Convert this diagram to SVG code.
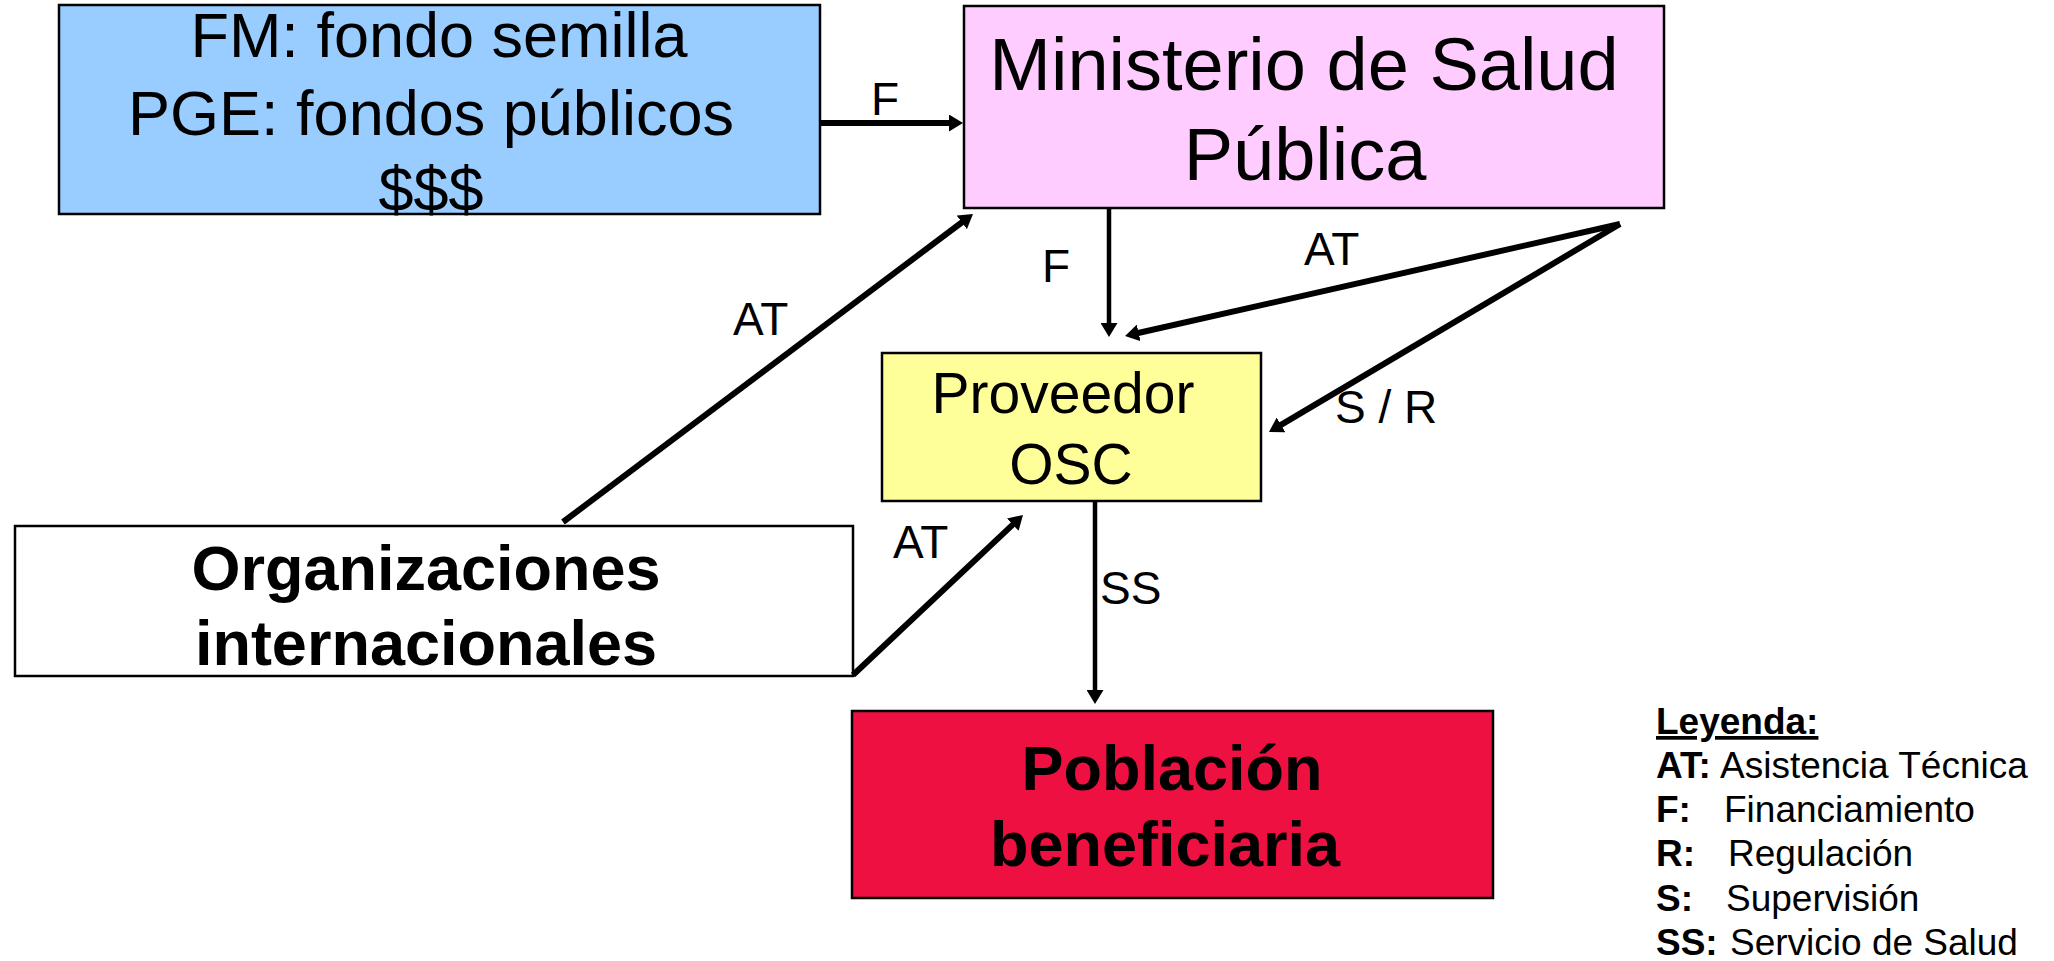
<svg xmlns="http://www.w3.org/2000/svg" width="2054" height="961" viewBox="0 0 2054 961">
<style>
  text { font-family: "Liberation Sans", Arial, sans-serif; fill: #000; }
  .box { stroke: #000; stroke-width: 2.5; }
  .t63 { font-size: 63px; text-anchor: middle; }
  .t74 { font-size: 74px; text-anchor: middle; }
  .t57 { font-size: 57px; text-anchor: middle; }
  .b64 { font-size: 63px; font-weight: bold; text-anchor: middle; }
  .lbl { font-size: 46px; }
  .leg { font-size: 37px; }
  .bold { font-weight: bold; }
  .conn line { stroke: #000; fill: none; }
  .thick { stroke-width: 6; }
  .thin { stroke-width: 4.5; }
</style>
<defs>
  <marker id="ah" viewBox="0 0 14 17" refX="4" refY="8.5" markerWidth="14" markerHeight="17" markerUnits="userSpaceOnUse" orient="auto">
    <path d="M0,0 L14,8.5 L0,17 Z" fill="#000"/>
  </marker>
</defs>
<rect width="2054" height="961" fill="#fff"/>

<g id="fondos">
  <rect class="box" x="59" y="5" width="761" height="209" fill="#99CCFF"/>
  <text class="t63" x="439" y="57">FM: fondo semilla</text>
  <text class="t63" x="431" y="135">PGE: fondos públicos</text>
  <text class="t63" x="431" y="211">$$$</text>
</g>

<g id="ministerio">
  <rect class="box" x="964" y="6" width="700" height="202" fill="#FFCCFF"/>
  <text class="t74" x="1304" y="90">Ministerio de Salud</text>
  <text class="t74" x="1305" y="180">Pública</text>
</g>

<g id="proveedor">
  <rect class="box" x="882" y="353" width="379" height="148" fill="#FFFF99"/>
  <text class="t57" x="1063" y="413">Proveedor</text>
  <text class="t57" x="1071" y="484">OSC</text>
</g>

<g id="organizaciones">
  <rect class="box" x="15" y="526" width="838" height="150" fill="#FFFFFF"/>
  <text class="b64" x="426" y="590">Organizaciones</text>
  <text class="b64" x="426" y="665">internacionales</text>
</g>

<g id="poblacion">
  <rect class="box" x="852" y="711" width="641" height="187" fill="#EE1041"/>
  <text class="b64" x="1172" y="790">Población</text>
  <text class="b64" x="1165" y="866">beneficiaria</text>
</g>

<g id="connectors" class="conn">
  <line class="thick" x1="820" y1="123" x2="953" y2="123" marker-end="url(#ah)"/>
  <line class="thin" x1="1109" y1="208" x2="1109" y2="327" marker-end="url(#ah)"/>
  <line class="thick" x1="1620" y1="224" x2="1134.8" y2="333.8" marker-end="url(#ah)"/>
  <line class="thick" x1="1620" y1="224" x2="1277.6" y2="426.9" marker-end="url(#ah)"/>
  <line class="thick" x1="563" y1="522" x2="965" y2="220" marker-end="url(#ah)"/>
  <line class="thick" x1="853" y1="675" x2="1015.7" y2="521.9" marker-end="url(#ah)"/>
  <line class="thin" x1="1095" y1="501" x2="1095" y2="694" marker-end="url(#ah)"/>
</g>

<g id="connector-labels">
  <text class="lbl" x="871" y="115">F</text>
  <text class="lbl" x="1042" y="282">F</text>
  <text class="lbl" x="1304" y="265">AT</text>
  <text class="lbl" x="733" y="335">AT</text>
  <text class="lbl" x="1335" y="423">S / R</text>
  <text class="lbl" x="893" y="558">AT</text>
  <text class="lbl" x="1100" y="604">SS</text>
</g>

<g id="leyenda">
  <text class="leg bold" x="1656" y="734" text-decoration="underline">Leyenda:</text>
  <text class="leg" y="778"><tspan class="bold" x="1656">AT:</tspan><tspan x="1720">Asistencia Técnica</tspan></text>
  <text class="leg" y="822"><tspan class="bold" x="1656">F:</tspan><tspan x="1724">Financiamiento</tspan></text>
  <text class="leg" y="866"><tspan class="bold" x="1656">R:</tspan><tspan x="1728">Regulación</tspan></text>
  <text class="leg" y="911"><tspan class="bold" x="1656">S:</tspan><tspan x="1726">Supervisión</tspan></text>
  <text class="leg" y="955"><tspan class="bold" x="1656">SS:</tspan><tspan x="1730">Servicio de Salud</tspan></text>
</g>
</svg>
